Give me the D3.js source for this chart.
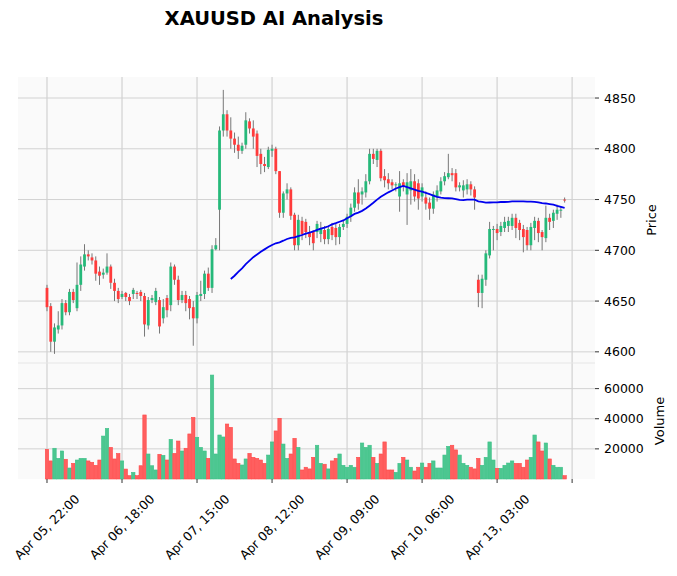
<!DOCTYPE html>
<html>
<head>
<meta charset="utf-8">
<script src="https://cdn.jsdelivr.net/npm/d3@7"></script>
<style>
  body { margin: 0; background: #fff; }
  text { font-family: "DejaVu Sans", sans-serif; }
</style>
</head>
<body>
<div class="chart"></div>
<script>
// hourly candles, index 0 = Apr 05 22:00
var opens = [4663,4645,4610,4622,4626,4648,4639,4659,4643,4666, 4684,4696,4693,4690,4679,4676,4678,4684,4668,4660,
  4654,4658,4654,4657,4658,4659,4655,4626,4651,4649, 4651,4633,4653,4646,4684,4671,4651,4656,4652,4644,
  4633,4655,4657,4677,4663,4701,4740,4818,4834,4818, 4810,4804,4798,4804,4827,4820,4815,4795,4785,4782,
  4798,4800,4778,4737,4756,4760,4735,4705,4729,4728, 4717,4718,4718,4716,4720,4711,4723,4722,4713,4723,
  4726,4733,4742,4757,4755,4757,4768,4795,4789,4798, 4773,4770,4767,4764,4753,4767,4755,4759,4768,4766,
  4753,4752,4747,4741,4753,4758,4768,4772,4776,4776, 4762,4759,4760,4765,4760,4671,4658,4671,4695,4720,
  4721,4718,4722,4724,4724,4732,4727,4721,4720,4705, 4722,4729,4718,4712,4732,4729,4736,4739,4750];
var highs = [4666,4648,4628,4640,4652,4651,4662,4662,4688,4694, 4706,4700,4697,4694,4684,4682,4697,4686,4672,4663,
  4660,4659,4657,4663,4660,4661,4658,4654,4656,4663, 4654,4652,4656,4688,4686,4675,4660,4660,4655,4650,
  4659,4670,4680,4683,4705,4712,4822,4858,4838,4831, 4816,4812,4806,4836,4830,4828,4818,4800,4792,4802,
  4804,4802,4778,4758,4766,4762,4737,4735,4733,4731, 4724,4720,4729,4728,4724,4724,4727,4726,4726,4730,
  4736,4746,4762,4770,4762,4775,4800,4800,4800,4800, 4780,4776,4770,4767,4778,4770,4776,4780,4775,4770,
  4766,4758,4752,4758,4764,4772,4777,4795,4781,4780, 4767,4769,4770,4768,4763,4676,4676,4700,4728,4724,
  4726,4728,4733,4733,4736,4736,4730,4725,4723,4727, 4733,4732,4720,4744,4736,4740,4745,4743,4752];
var lows = [4640,4600,4598,4618,4622,4636,4636,4648,4640,4660, 4680,4690,4686,4670,4666,4672,4676,4662,4650,4648,
  4652,4650,4646,4652,4652,4650,4615,4622,4648,4646, 4618,4628,4634,4640,4666,4646,4648,4640,4632,4606,
  4628,4650,4652,4660,4658,4700,4700,4812,4812,4800, 4796,4790,4795,4800,4815,4800,4782,4775,4777,4780,
  4792,4775,4732,4732,4750,4730,4700,4700,4710,4712, 4705,4700,4712,4708,4706,4706,4710,4705,4706,4720,
  4722,4728,4738,4740,4745,4752,4765,4785,4782,4768, 4762,4760,4760,4758,4738,4758,4725,4745,4748,4740,
  4748,4740,4730,4736,4748,4755,4764,4770,4768,4758, 4758,4752,4755,4754,4740,4644,4643,4665,4692,4700,
  4710,4714,4718,4718,4720,4712,4710,4698,4700,4700, 4710,4708,4700,4708,4720,4722,4730,4732,4747];
var closes = [4644,4610,4624,4626,4648,4639,4659,4651,4666,4686, 4696,4694,4690,4677,4675,4678,4684,4668,4660,4652,
  4657,4654,4650,4661,4657,4655,4627,4651,4653,4660, 4625,4644,4641,4684,4671,4651,4656,4648,4643,4633,
  4656,4657,4677,4663,4701,4705,4818,4834,4818,4810, 4804,4798,4803,4828,4820,4812,4793,4785,4783,4799,
  4800,4778,4737,4756,4760,4734,4705,4730,4716,4718, 4713,4707,4726,4722,4711,4721,4715,4713,4723,4726,
  4733,4742,4757,4746,4758,4768,4795,4790,4798,4771, 4769,4766,4764,4765,4766,4763,4767,4768,4753,4751,
  4762,4746,4741,4755,4759,4768,4773,4776,4774,4762, 4764,4764,4765,4760,4752,4658,4672,4697,4721,4721,
  4717,4724,4728,4729,4732,4722,4720,4713,4705,4723, 4729,4717,4713,4732,4728,4737,4740,4740,4749];
var volumes = [19700,12000,20400,13700,18600,13100,7300,10400,12600,13700, 13700,12000,11100,9100,12600,28500,33600,21000,13300,16900,
  12000,6600,2200,4400,2200,8800,42500,16600,8800,6000, 16400,15700,12600,26300,17000,25200,18600,20400,29900,40900,
  27700,21000,18600,13700,69000,16600,29200,27900,36500,34300, 13300,10400,9300,13300,17000,14400,13700,12600,10400,15900,
  24600,31900,40300,23200,13700,16600,27000,21000,6000,7800, 6700,14400,22400,10400,9800,6700,12000,13700,16600,9100,
  7800,9100,7800,14400,23900,21000,22400,14400,10400,16600, 24600,6000,6000,4400,10400,14400,12600,7800,5300,7800,
  10600,7800,10400,12000,7300,7300,15900,21700,22400,19300, 15900,10400,9100,7800,6700,13700,9100,14400,24600,12600,
  7100,7100,9100,10600,12000,10400,10400,7800,12600,14400, 29200,24600,18600,23900,13300,9100,7800,7800,2200];
var tickIndex = [0, 20, 40, 60, 80, 100, 120, 140];
var tickLabels = ["Apr 05, 22:00", "Apr 06, 18:00", "Apr 07, 15:00", "Apr 08, 12:00", "Apr 09, 09:00", "Apr 10, 06:00", "Apr 13, 03:00", ""];
var priceTicks = [4600, 4650, 4700, 4750, 4800, 4850];
var volTicks = [20000, 40000, 60000];
var mavPeriod = 50;

var W = 677, H = 576;
var left = 18, right = 595, pTop = 77, pBot = 363, vBot = 479;
var upCol = "#26b97a", downCol = "#ff3b3b", upVol = "#4cc790", downVol = "#ff5f5f", grid = "#d2d2d2";

var svg = d3.select(".chart").append("svg").attr("width", W).attr("height", H);

var x = d3.scaleLinear().domain([-7.73, 146.1]).range([left, right]);
var y = d3.scaleLinear().domain([4589, 4870.7]).range([pBot, pTop]);
var yv = d3.scaleLinear().domain([0, 77000]).range([vBot, pBot]);

svg.append("rect").attr("x", left).attr("y", pTop).attr("width", right - left).attr("height", vBot - pTop).attr("fill", "#fafafa");

// grid
svg.selectAll(".pg").data(priceTicks).enter().append("line")
    .attr("x1", left).attr("x2", right).attr("y1", function (d) { return y(d); }).attr("y2", function (d) { return y(d); })
    .attr("stroke", grid).attr("stroke-width", 1);
svg.selectAll(".vg").data(volTicks).enter().append("line")
    .attr("x1", left).attr("x2", right).attr("y1", function (d) { return yv(d); }).attr("y2", function (d) { return yv(d); })
    .attr("stroke", grid).attr("stroke-width", 1);
svg.selectAll(".xg").data(tickIndex).enter().append("line")
    .attr("x1", function (d) { return x(d); }).attr("x2", function (d) { return x(d); })
    .attr("y1", pTop).attr("y2", vBot).attr("stroke", grid).attr("stroke-width", 1.2);
svg.append("line").attr("x1", left).attr("x2", right).attr("y1", pBot).attr("y2", pBot).attr("stroke", "#e6e6e6");

var idx = d3.range(closes.length);
function isUp(i) { return closes[i] >= opens[i]; }

// wicks
svg.selectAll(".wick").data(idx).enter().append("line")
    .attr("x1", function (i) { return x(i); }).attr("x2", function (i) { return x(i); })
    .attr("y1", function (i) { return y(highs[i]); }).attr("y2", function (i) { return y(lows[i]); })
    .attr("stroke", "#777").attr("stroke-width", 1);

// bodies
svg.selectAll(".body").data(idx).enter().append("rect")
    .attr("x", function (i) { return x(i) - 1.4; }).attr("width", 2.8)
    .attr("y", function (i) { return y(Math.max(opens[i], closes[i])); })
    .attr("height", function (i) { return Math.max(1, Math.abs(y(opens[i]) - y(closes[i]))); })
    .attr("fill", function (i) { return isUp(i) ? upCol : downCol; });

// moving average
var mav = idx.map(function (i) { return i < mavPeriod - 1 ? null : d3.mean(closes.slice(i - mavPeriod + 1, i + 1)); });
svg.append("path").datum(idx.filter(function (i) { return mav[i] !== null; }))
    .attr("d", d3.line().x(function (i) { return x(i); }).y(function (i) { return y(mav[i]); }))
    .attr("fill", "none").attr("stroke", "#0000ee").attr("stroke-width", 1.8);

// volume
svg.selectAll(".vol").data(idx).enter().append("rect")
    .attr("x", function (i) { return x(i) - 1.7; }).attr("width", 3.4)
    .attr("y", function (i) { return yv(volumes[i]); })
    .attr("height", function (i) { return vBot - yv(volumes[i]); })
    .attr("fill", function (i) { return isUp(i) ? upVol : downVol; })
    .attr("stroke", function (i) { return isUp(i) ? "#3cc088" : "#ff4848"; }).attr("stroke-width", 0.6);

// axes
svg.selectAll(".pt").data(priceTicks).enter().append("text")
    .attr("x", 604).attr("y", function (d) { return y(d) + 4.5; }).attr("font-size", 12.5).text(function (d) { return d; });
svg.selectAll(".pt2").data(priceTicks).enter().append("line")
    .attr("x1", right).attr("x2", right + 4).attr("y1", function (d) { return y(d); }).attr("y2", function (d) { return y(d); }).attr("stroke", "#333");
svg.selectAll(".vt").data(volTicks).enter().append("text")
    .attr("x", 604).attr("y", function (d) { return yv(d) + 4.5; }).attr("font-size", 12.5).text(function (d) { return d; });
svg.selectAll(".vt2").data(volTicks).enter().append("line")
    .attr("x1", right).attr("x2", right + 4).attr("y1", function (d) { return yv(d); }).attr("y2", function (d) { return yv(d); }).attr("stroke", "#333");
svg.selectAll(".xt").data(tickIndex).enter().append("line")
    .attr("x1", function (d) { return x(d); }).attr("x2", function (d) { return x(d); })
    .attr("y1", vBot).attr("y2", vBot + 4).attr("stroke", "#333");
svg.selectAll(".xl").data(tickIndex).enter().append("text")
    .attr("transform", function (d) { return "translate(" + x(d) + ",527) rotate(-45)"; })
    .attr("text-anchor", "middle").attr("dy", "0.35em").attr("font-size", 12.5)
    .text(function (d, i) { return tickLabels[i]; });

svg.append("text").attr("transform", "translate(656," + ((pTop + pBot) / 2) + ") rotate(-90)")
    .attr("text-anchor", "middle").attr("font-size", 13).text("Price");
svg.append("text").attr("transform", "translate(664," + ((pBot + vBot) / 2) + ") rotate(-90)")
    .attr("text-anchor", "middle").attr("font-size", 13).text("Volume");
svg.append("text").attr("x", 274).attr("y", 25).attr("text-anchor", "middle")
    .attr("font-size", 19.5).attr("font-weight", "bold").text("XAUUSD AI Analysis");
</script>
</body>
</html>
